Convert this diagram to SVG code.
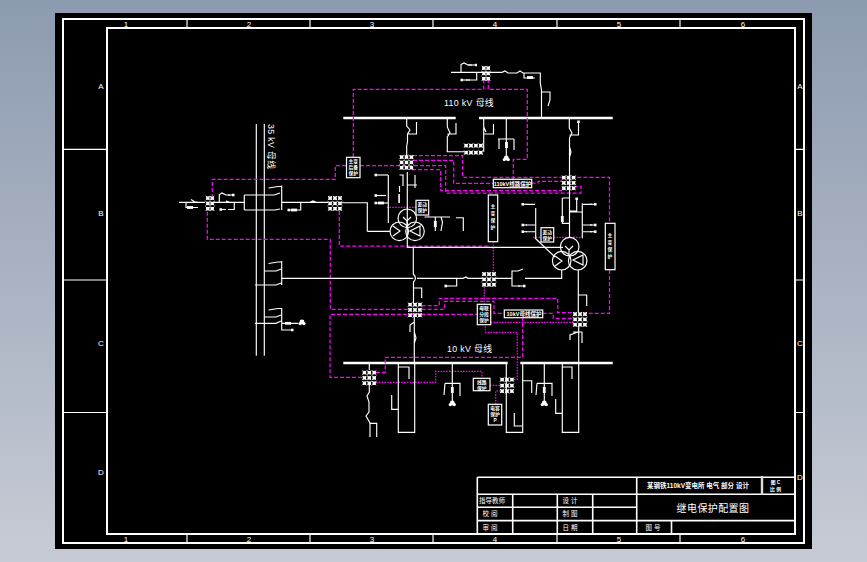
<svg xmlns="http://www.w3.org/2000/svg" xmlns:xlink="http://www.w3.org/1999/xlink" width="867" height="562" viewBox="0 0 867 562">
<style>
.w{fill:none;stroke:#fff;stroke-width:1.15}
.a{marker-end:url(#ah)}
.b{fill:none;stroke:#fff;stroke-width:1.6}
.m{fill:none;stroke:#f0f;stroke-width:1.25;stroke-dasharray:4 2}
.d{fill:none;stroke:#f0f;stroke-width:1.2;stroke-dasharray:1.6 1.2}
.bar{stroke:#fff;stroke-width:2.6;fill:none}
.box{fill:#000;stroke:#fff;stroke-width:1.2}
text{font-family:"Liberation Sans","Noto Sans CJK SC",sans-serif;fill:#fff}
.t{font-size:8.800px;letter-spacing:.35px}
.s{font-size:4.800px;font-weight:bold;text-anchor:middle}
.r{font-size:8px;text-anchor:middle}
.tb{font-size:6.500px;text-anchor:middle}
</style>
<defs>
<linearGradient id="bg" x1="0" y1="0" x2="0" y2="1"><stop offset="0" stop-color="#8d9bb0"/><stop offset="1" stop-color="#c7cbd5"/></linearGradient>
<marker id="ah" markerUnits="userSpaceOnUse" markerWidth="5" markerHeight="5" refX="1" refY="2.500" orient="auto"><path d="M0 1.200H2.500V3.800H0Z" fill="#fff"/></marker>
<g id="c"><rect x=".4" y=".4" width="3.400" height="3.400" fill="#fff"/><path d="M0 0l4.200 4.200M4.200 0L0 4.200" stroke="#fff" stroke-width=".9"/></g>
<g id="r3"><use xlink:href="#c"/><use xlink:href="#c" x="4.900"/><use xlink:href="#c" x="9.800"/></g>
<g id="ct33"><use xlink:href="#r3"/><use xlink:href="#r3" y="5.300"/><use xlink:href="#r3" y="10.600"/></g>
<g id="ct23"><use xlink:href="#c"/><use xlink:href="#c" x="4.400"/><use xlink:href="#c" y="5.300"/><use xlink:href="#c" y="5.300" x="4.400"/><use xlink:href="#c" y="10.600"/><use xlink:href="#c" y="10.600" x="4.400"/></g>
<g id="ct42"><use xlink:href="#r3"/><use xlink:href="#c" x="14.700"/><use xlink:href="#r3" y="7"/><use xlink:href="#c" x="14.700" y="7"/></g>
<g id="pt"><circle cx="0" cy="0" r="2.400" fill="#fff"/><circle cx="-2" cy="1.600" r="1.600" fill="#fff"/><circle cx="2" cy="1.600" r="1.600" fill="#fff"/></g>
<rect id="fu" x="-1.400" y="-3" width="2.800" height="6" fill="#fff"/>
</defs>
<rect width="867" height="562" fill="url(#bg)"/>
<rect x="55" y="13" width="757" height="536" fill="#000"/>
<g id="frame">
<rect x="63" y="19" width="741" height="524" class="b" style="stroke-width:2"/>
<rect x="107" y="28" width="688" height="506" class="b" style="stroke-width:2"/>
<path class="w" d="M187 20V27M310 20V27M433 20V27M557 20V27M680 20V27M187 535V542M310 535V542M433 535V542M557 535V542M680 535V542M64 149.300H106M64 280H106M64 412.500H106M796 149.300H803M796 280H803M796 412.500H803"/>
<g class="r"><text x="126" y="26.500">1</text><text x="249" y="26.500">2</text><text x="372" y="26.500">3</text><text x="495" y="26.500">4</text><text x="619" y="26.500">5</text><text x="743" y="26.500">6</text>
<text x="126" y="541.500">1</text><text x="249" y="541.500">2</text><text x="372" y="541.500">3</text><text x="495" y="541.500">4</text><text x="619" y="541.500">5</text><text x="743" y="541.500">6</text>
<text x="101" y="89">A</text><text x="101" y="216">B</text><text x="101" y="346">C</text><text x="101" y="475">D</text>
<text x="800" y="89">A</text><text x="800" y="216">B</text><text x="800" y="346">C</text><text x="800" y="480">D</text></g>
</g>
<g id="titleblock">
<path class="b" d="M477.300 477.300H795M477.300 477.300V534M477.300 494.200H795M477.300 507.300H636.700M477.300 520.600H795M512.700 494.200V534M557.300 494.200V534M592.700 494.200V534M636.700 477.300V534M671.500 520.600V534"/>
<path d="M762 476V495" stroke="#ddd" stroke-width="2.400"/>
<text class="tb" x="698" y="488" style="font-weight:bold">某钢铁110kV变电所 电气 部分 设计</text>
<text x="713" y="512" style="font-size:10px;text-anchor:middle;letter-spacing:.4px">继电保护配置图</text>
<text class="tb" x="492" y="502.500">指导教师</text><text class="tb" x="490" y="516">校  阅</text><text class="tb" x="490" y="530">审  阅</text>
<text class="tb" x="570" y="502.500">设  计</text><text class="tb" x="570" y="516">制  图</text><text class="tb" x="570" y="530">日  期</text>
<text class="tb" x="653" y="530">图  号</text>
<text class="s" x="775.500" y="483.500">图    C</text><text class="s" x="775.500" y="491">比    例</text>
</g>
<g id="bus-110kv"><path class="bar" d="M343.300 118H455.700M479 118H612.700"/><text class="t" x="444" y="105.500">110 kV 母线</text></g>
<g id="bus-10kv"><path class="bar" d="M343.300 363H507.700M520.300 363H612.700"/><text class="t" x="447" y="352">10 kV 母线</text></g>
<g id="bus-35kv"><path class="w" d="M256.300 124V355.700M264.300 124V355.700"/><text class="t" transform="translate(268 124) rotate(90)">35 kV 母线</text></g>
<g id="connectors">
<path class="m" d="M353.300 157V89.300H483.700V79M488.300 79V89.300H527.300V159.300H513.300V179"/>
<path class="m" d="M413 155.700H462.700V177.300H609.500V223M609.500 270V313.300H586"/>
<path class="m" d="M413 160.300H453.700V183.300H493.300M531.700 183H538V181.300H562"/>
<path class="m" d="M412 169.700H440.700V190.700H562"/>
<path class="m" d="M360 165.700H445.700V193H581V186.700H575M346 165.700H335.300V179.300H212.300V196"/>
<path class="m" d="M339.300 211V246H488.300"/>
<path class="m" d="M207.300 211.700V239.300H330.300V309.300H408"/>
<path class="m" d="M362 377.300H330V314.300H477.300"/>
<path class="m" d="M421.700 305.700H439.300V298.300H557.700V312.700H574"/>
<path class="m" d="M421.700 309.300H444.700V301.300H494V313.300H504.300M542.700 313.300H553.300V318.300H574"/>
<path class="m" d="M376 372.300H385.300V357.300H522.700V318"/>
<path class="d" d="M376 382.300H435.700V371.300H482V378.300"/>
<path class="d" d="M490 385.300H500M514 379.300H517.300V332.300H485.300V324.700M495.700 404.300V391H500M490.700 322.300H574"/>
<path class="d" d="M484.300 286.700V304.300M493.300 241.700V272M386.700 207.300H428.300V217M553.700 237.300H581.700M533 237.300H541"/>
<path class="w" d="M451 72.300H502L505 71L508 73H517L520 71L523 73H540.300V83L541.500 90V117M461 72V64.500L464 63L468 65H472M476.700 72.300V80H466M524 73V78H535M541.500 92H550V100L548 106"/>
<path class="w a" d="M468 65H475.500"/><path class="w a" d="M470 80H462"/>
<use xlink:href="#fu" x="530" y="77.500" transform="rotate(90 530 77.500)"/>
<path class="w" d="M406.700 119V126L410 130L407.500 134V142L406.700 146V157M407.500 134H416.500V122M407.300 172V247.300H563M399.500 175H403V186M415 175V188M407 185H417M399.500 186V192"/>
<path class="w" d="M447.300 119V127L450 133L447.300 137V151.700H464M447.300 134H456V123M483.700 119V151.700M483.700 127L486 132M483.700 134H493.500V124"/>
<path class="w" d="M506.300 119V139M498 139H514M499 139V149M514 139V150M506.300 139V158"/>
<use xlink:href="#fu" x="506.500" y="145"/><use xlink:href="#pt" x="506.300" y="158"/>
<path class="w" d="M569.300 119V128L572 133L569.500 138V238M569.500 135H578.500V125M569.300 146L571 152L569.300 158"/>
<path class="w a" d="M578.500 126V122"/>
<path class="w" d="M388.300 175V223M367.300 231.300H390M340 202.700H367.300V231.300"/>
<path class="w a" d="M388 175H376"/><path class="w a" d="M386 195.500H376"/><path class="w a" d="M388 203H376"/>
<rect x="398.300" y="194" width="1.600" height="9" fill="#fff"/><use xlink:href="#fu" x="381" y="203" transform="rotate(90 381 203)"/>
<path class="w" d="M424.500 217H450M435.300 217V231M441 217L442.500 222L441 231M456 217.700H463.300V231"/>
<use xlink:href="#fu" x="435.300" y="224"/>
<path class="w" d="M179 202.300H205M214 202.300H244.300M186 202.300V207.500H198M191 199.500L195 202L198 202M219.300 202.300V194.500L222 193L226 195H230M234.300 202.300V209.500H228M226 201L230 202.300"/>
<path class="w a" d="M228 195H233"/><path class="w a" d="M226 209.500H221"/>
<use xlink:href="#fu" x="190" y="207.500" transform="rotate(90 190 207.500)"/>
<path class="w" d="M244.300 195V210M244.300 195H274M244.300 210H275M281.700 185.500V210M268.500 188L278 186.500H281.700M274 195L280 193M275 210L280 209M281.700 202.300H328M300.700 202.300V210H294M310 202.300L313 201L316 202.300"/>
<path class="w a" d="M294 210H289"/>
<use xlink:href="#fu" x="294" y="210" transform="rotate(90 294 210)"/>
<path class="w" d="M281.700 261V285M268.500 263.500L278 262H281.700M264.300 271H276L281 269M255 285H276L281 283M281.700 278.300H330"/>
<path class="w" d="M281.700 308V330H290M268.500 310L278 308.500H281.700M264.300 317H276L281 315M255 323.300H276L281 321M281.700 323.300H298"/>
<path class="w a" d="M290 330H292"/>
<use xlink:href="#fu" x="288" y="323.300" transform="rotate(90 288 323.300)"/><use xlink:href="#pt" x="302" y="322"/>
<path class="w" d="M330 278.300H413.300M417 278.300H456.700V286H450M456.700 278.300H463L466 277L468 278.300H483.300M495 278.300H512V271H518L523 269M512 278.300V286H520M525 278.300H531M531 278.300H561.700V270"/>
<path class="w a" d="M450 286H446"/><path class="w a" d="M518 286H524"/>
<path class="w" d="M413.300 247.300V274Q417.500 278.300 413.500 282V303.300M413.500 288H421.700V298"/>
<path class="w" d="M414.300 316.700V322L410 325V332M414.300 322V363M414.300 332L416 338L414 344"/>
<path class="w" d="M578.300 270V312M578.500 295H586.700V306M578.700 325V363M573 332H578L570 335V340M578 332H582V343"/>
<path class="w" d="M562.300 198H569.300M562.300 198V223.300H569.300M576.700 203V211H570M570 212H582M582.300 203.300V238.300M583 204.300H592M583 225H592M583 231.700H592"/>
<path class="w a" d="M576.700 203V199"/><path class="w a" d="M590 204.300H595"/><path class="w a" d="M590 225H595"/><path class="w a" d="M590 231.700H595"/>
<use xlink:href="#fu" x="562.300" y="219"/>
<path class="w" d="M535.700 208V238M526 204.300H535M526 225H535M526 231.700H535M535 238L555 257"/>
<path class="w a" d="M527 204.300H523"/><path class="w a" d="M527 225H523"/><path class="w a" d="M527 231.700H523"/>
<path class="w" d="M369.300 364V370M369.300 384V392L367 396L369 402V412L366 416L370 423V437M369.300 423.300H376.700V437"/>
<path class="w" d="M398.300 364V432.300H414.700V363M398.300 367H409V379M391.700 395V409.300H398.300"/>
<path class="w" d="M452.300 364V403M445 383.300H460V396M445 383.300L444 395"/><use xlink:href="#fu" x="452.300" y="390"/><use xlink:href="#pt" x="452.300" y="403"/>
<path class="w" d="M506.300 364V432.300H522.700V364M522.700 380.700H531.700V393M514.300 413V426H522"/>
<path class="w" d="M544.300 364V403M537 383.300H552V396M537 383.300L536 395"/><use xlink:href="#fu" x="544.300" y="390"/><use xlink:href="#pt" x="544.300" y="403"/>
<path class="w" d="M562.300 364V432.300H578.700V364M562.300 367H572V379M555.700 399V413.300H562.300"/>
</g>
<g id="ct-clusters">
<use xlink:href="#ct33" x="399.500" y="155"/><use xlink:href="#ct23" x="481.700" y="66"/><use xlink:href="#ct42" x="464" y="143.500"/>
<use xlink:href="#ct33" x="561.700" y="175.500"/><use xlink:href="#ct33" x="328" y="196"/><use xlink:href="#ct23" x="205.700" y="196"/>
<use xlink:href="#ct33" x="482" y="272"/><use xlink:href="#ct33" x="408" y="302.500"/><use xlink:href="#ct33" x="573" y="312"/>
<use xlink:href="#ct33" x="362.300" y="370.500"/><use xlink:href="#r3" x="500" y="377.500"/><use xlink:href="#r3" x="500" y="383.500"/><use xlink:href="#r3" x="500" y="389"/>
</g>
<g id="transformer-1"><circle class="w" cx="407.300" cy="218.300" r="9.300"/><circle class="w" cx="399.300" cy="231.300" r="9.300"/><circle class="w" cx="415" cy="231.300" r="9.300"/>
<path class="w" d="M393 226L400 231L393 236M403 217L407 221L411 217M407 221V227M410 231L420 226V236Z"/></g>
<g id="transformer-2"><circle class="w" cx="569.700" cy="246.700" r="9.300"/><circle class="w" cx="561.700" cy="260.700" r="9.300"/><circle class="w" cx="577.700" cy="260.700" r="9.300"/>
<path class="w" d="M555 256L562 261L555 266M565 246L569 250L573 246M569 250V256M573 260L583 255V265Z"/></g>
<g id="relay-1"><rect class="box" x="346.500" y="157.300" width="13.500" height="20.400"/><text class="s"><tspan x="353.300" y="163">主变</tspan><tspan x="353.300" y="169">后备</tspan><tspan x="353.300" y="175">保护</tspan></text></g>
<g id="relay-2"><rect class="box" x="416" y="200.300" width="12.700" height="14.700"/><text class="s"><tspan x="422.300" y="206">差动</tspan><tspan x="422.300" y="212">保护</tspan></text></g>
<g id="relay-3"><rect class="box" x="541" y="227.700" width="12.700" height="14.300"/><text class="s"><tspan x="547.300" y="234">差动</tspan><tspan x="547.300" y="240">保护</tspan></text></g>
<g id="relay-4"><rect class="box" x="493.300" y="179.300" width="38.400" height="8.400"/><text class="s" x="512.500" y="185.500" style="font-size:5.500px">110kV线路保护</text></g>
<g id="relay-5"><rect class="box" x="488.300" y="195" width="9.400" height="46.700"/><text class="s"><tspan x="493" y="208">主</tspan><tspan x="493" y="215">变</tspan><tspan x="493" y="222">保</tspan><tspan x="493" y="229">护</tspan></text></g>
<g id="relay-6"><rect class="box" x="605.300" y="223.300" width="9.700" height="46.400"/><text class="s"><tspan x="610" y="237">主</tspan><tspan x="610" y="244">变</tspan><tspan x="610" y="251">保</tspan><tspan x="610" y="258">护</tspan></text></g>
<g id="relay-7"><rect class="box" x="477.300" y="304.300" width="13.400" height="20.400"/><text class="s"><tspan x="484" y="310">母联</tspan><tspan x="484" y="316">分段</tspan><tspan x="484" y="322">保护</tspan></text></g>
<g id="relay-8"><rect class="box" x="504.300" y="310" width="38.400" height="7.700"/><text class="s" x="524" y="316" style="font-size:5.500px">10kV母线保护</text></g>
<g id="relay-9"><rect class="box" x="473.300" y="378.300" width="16.700" height="12.400"/><text class="s"><tspan x="481.700" y="384">线路</tspan><tspan x="481.700" y="389.500">保护</tspan></text></g>
<g id="relay-10"><rect class="box" x="488.300" y="404.300" width="13.400" height="20.700"/><text class="s"><tspan x="495" y="410">电容</tspan><tspan x="495" y="416">保护</tspan><tspan x="495" y="422">P</tspan></text></g>
</svg>
